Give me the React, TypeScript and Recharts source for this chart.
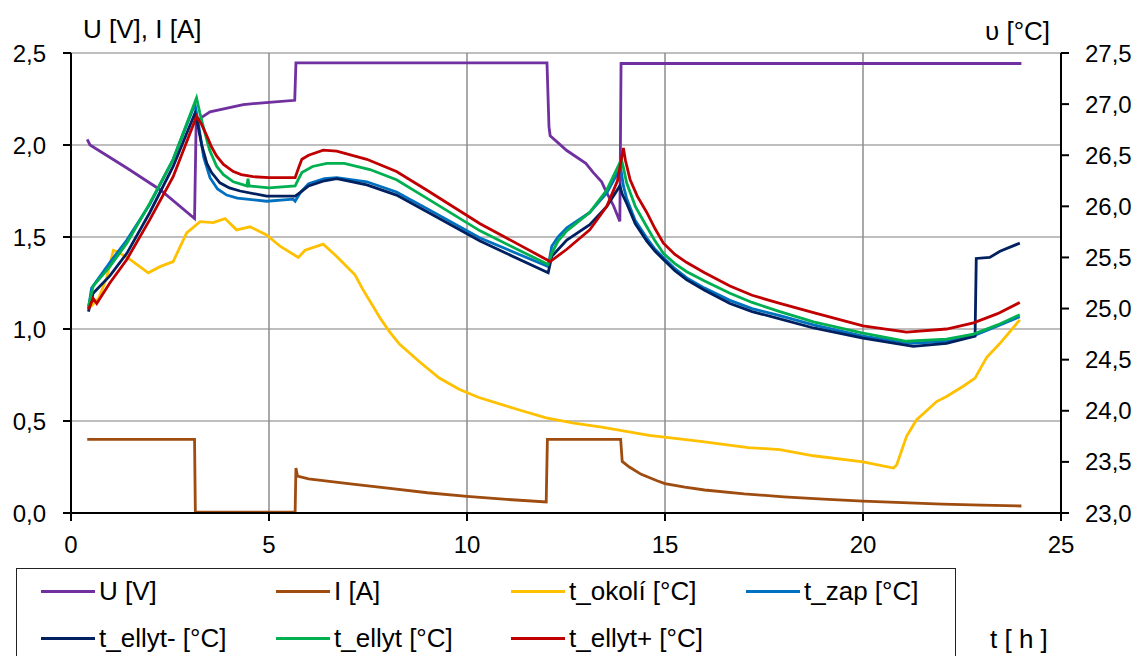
import React from "react"
import { LineChart, Line, XAxis, YAxis, CartesianGrid } from "recharts"

// [t in hours, value]
const uData: [number, number][] = [
  [0.41, 2.03], [0.48, 2.0], [1.41, 1.875], [2.25, 1.757], [3.12, 1.6], [3.16, 2.12],
  [3.3, 2.15], [3.51, 2.18], [4.35, 2.22], [5.0, 2.232], [5.65, 2.243], [5.68, 2.446],
  [12.02, 2.446], [12.07, 2.1], [12.1, 2.05], [12.52, 1.97], [13.0, 1.9], [13.19, 1.85],
  [13.4, 1.8], [13.53, 1.74], [13.7, 1.67], [13.86, 1.585], [13.89, 2.443], [24.0, 2.443],
]

const iData: [number, number][] = [
  [0.41, 0.4], [3.12, 0.4], [3.14, 0.005], [5.66, 0.005], [5.68, 0.245], [5.72, 0.2],
  [6.0, 0.185], [7.0, 0.16], [8.0, 0.135], [9.0, 0.11], [10.0, 0.09], [11.0, 0.074],
  [12.0, 0.06], [12.03, 0.4], [13.88, 0.4], [13.92, 0.28], [14.1, 0.25], [14.4, 0.21],
  [14.8, 0.175], [15.0, 0.16], [15.5, 0.14], [16.0, 0.125], [17.0, 0.104], [18.0, 0.088],
  [19.0, 0.075], [20.0, 0.064], [21.0, 0.056], [22.0, 0.048], [23.0, 0.043], [24.0, 0.038],
]

const okoliData: [number, number][] = [
  [0.45, 25.0], [0.7, 25.1], [0.9, 25.3], [1.07, 25.57], [1.2, 25.55], [1.49, 25.48],
  [1.95, 25.35], [2.25, 25.41], [2.58, 25.46], [2.92, 25.74], [3.26, 25.85], [3.59, 25.84],
  [3.89, 25.88], [4.18, 25.77], [4.52, 25.8], [4.94, 25.72], [5.28, 25.61], [5.74, 25.5],
  [5.91, 25.57], [6.37, 25.63], [6.71, 25.51], [7.17, 25.33], [7.38, 25.18], [7.6, 25.04],
  [7.8, 24.91], [8.05, 24.77], [8.3, 24.65], [8.8, 24.48], [9.3, 24.32], [9.8, 24.21],
  [10.3, 24.13], [10.8, 24.07], [11.3, 24.01], [12.0, 23.93], [12.7, 23.88], [13.4, 23.84],
  [14.6, 23.76], [15.9, 23.7], [17.1, 23.64], [17.9, 23.62], [18.75, 23.56], [20.0, 23.5],
  [20.77, 23.44], [20.85, 23.47], [21.1, 23.75], [21.35, 23.91], [21.86, 24.09], [22.11, 24.14],
  [22.53, 24.24], [22.83, 24.32], [23.12, 24.52], [23.46, 24.66], [23.96, 24.89],
]

const zapData: [number, number][] = [
  [0.44, 25.0], [0.52, 25.2], [0.98, 25.45], [1.41, 25.67], [1.99, 26.02], [2.58, 26.46],
  [3.13, 27.0], [3.2, 26.85], [3.35, 26.48], [3.51, 26.28], [3.7, 26.17], [3.93, 26.11],
  [4.2, 26.08], [4.44, 26.07], [4.94, 26.05], [5.61, 26.07], [5.66, 26.05], [5.8, 26.14],
  [6.0, 26.22], [6.4, 26.27], [6.71, 26.28], [7.47, 26.24], [8.22, 26.14], [8.98, 25.98],
  [10.33, 25.69], [12.05, 25.41], [12.14, 25.61], [12.3, 25.7], [12.52, 25.79], [13.1, 25.94],
  [13.53, 26.13], [13.88, 26.38], [13.95, 26.2], [14.03, 26.08], [14.25, 25.86], [14.54, 25.69],
  [14.75, 25.58], [14.96, 25.5], [15.25, 25.39], [15.55, 25.3], [16.0, 25.2], [16.64, 25.08],
  [17.2, 25.0], [17.9, 24.93], [18.75, 24.84], [20.0, 24.73], [21.2, 24.66], [22.11, 24.68],
  [22.83, 24.74], [23.4, 24.83], [23.96, 24.92],
]

const ellytMinusData: [number, number][] = [
  [0.44, 24.97], [0.56, 25.15], [0.98, 25.32], [1.41, 25.54], [1.99, 25.94], [2.58, 26.39],
  [3.13, 26.91], [3.2, 26.8], [3.3, 26.6], [3.43, 26.42], [3.55, 26.33], [3.76, 26.23],
  [4.0, 26.18], [4.27, 26.15], [4.94, 26.1], [5.66, 26.1], [5.8, 26.14], [6.0, 26.2],
  [6.4, 26.25], [6.71, 26.27], [7.47, 26.21], [8.22, 26.11], [8.98, 25.95], [10.33, 25.66],
  [12.05, 25.35], [12.14, 25.51], [12.52, 25.67], [13.1, 25.82], [13.53, 26.0], [13.86, 26.2],
  [13.92, 26.12], [14.03, 26.03], [14.25, 25.83], [14.54, 25.66], [14.75, 25.56], [14.96, 25.48],
  [15.25, 25.37], [15.55, 25.28], [16.0, 25.18], [16.64, 25.05], [17.2, 24.97], [17.9, 24.9],
  [18.75, 24.81], [20.0, 24.71], [21.27, 24.63], [22.11, 24.66], [22.83, 24.73], [22.86, 25.49],
  [23.2, 25.5], [23.46, 25.56], [23.96, 25.64],
]

const ellytData: [number, number][] = [
  [0.44, 25.02], [0.56, 25.22], [0.98, 25.41], [1.41, 25.64], [1.99, 26.03], [2.58, 26.46],
  [3.17, 27.06], [3.25, 26.92], [3.34, 26.78], [3.5, 26.55], [3.68, 26.39], [3.85, 26.31],
  [4.1, 26.24], [4.44, 26.2], [4.47, 26.27], [4.5, 26.2], [5.0, 26.18], [5.66, 26.2],
  [5.75, 26.27], [5.83, 26.33], [6.1, 26.39], [6.46, 26.42], [6.9, 26.42], [7.55, 26.36],
  [8.22, 26.26], [8.98, 26.08], [10.33, 25.76], [12.05, 25.43], [12.14, 25.54], [12.3, 25.66],
  [12.52, 25.76], [13.1, 25.94], [13.53, 26.16], [13.9, 26.46], [13.95, 26.38], [14.03, 26.23],
  [14.25, 26.0], [14.54, 25.8], [14.75, 25.66], [14.96, 25.54], [15.25, 25.44], [15.55, 25.36],
  [16.0, 25.27], [16.64, 25.15], [17.2, 25.06], [17.9, 24.97], [18.75, 24.87], [20.0, 24.76],
  [21.1, 24.68], [22.11, 24.7], [22.79, 24.75], [23.4, 24.84], [23.96, 24.94],
]

const ellytPlusData: [number, number][] = [
  [0.44, 24.99], [0.56, 25.1], [0.65, 25.05], [0.98, 25.25], [1.41, 25.48], [1.99, 25.87],
  [2.58, 26.29], [3.17, 26.88], [3.3, 26.8], [3.43, 26.69], [3.55, 26.58], [3.68, 26.49],
  [3.85, 26.41], [4.1, 26.34], [4.3, 26.31], [4.6, 26.29], [5.0, 26.28], [5.66, 26.28],
  [5.75, 26.38], [5.83, 26.46], [6.0, 26.5], [6.37, 26.55], [6.71, 26.54], [7.47, 26.46],
  [8.22, 26.34], [8.98, 26.16], [10.33, 25.83], [12.1, 25.46], [12.52, 25.58], [13.1, 25.77],
  [13.53, 26.0], [13.8, 26.25], [13.95, 26.57], [14.0, 26.45], [14.12, 26.26], [14.3, 26.1],
  [14.54, 25.94], [14.75, 25.78], [14.96, 25.64], [15.25, 25.53], [15.55, 25.45], [16.0, 25.35],
  [16.64, 25.22], [17.2, 25.13], [17.9, 25.05], [18.75, 24.96], [20.0, 24.83], [21.1, 24.77],
  [22.11, 24.8], [22.79, 24.86], [23.4, 24.95], [23.96, 25.06],
]

const xTicks = [0, 5, 10, 15, 20, 25]
const leftTicks = [0, 0.5, 1, 1.5, 2, 2.5]
const rightTicks = [23, 23.5, 24, 24.5, 25, 25.5, 26, 26.5, 27, 27.5]

const series = [
  { name: "U [V]", data: uData, axis: "left", color: "#7030A0" },
  { name: "I [A]", data: iData, axis: "left", color: "#9E4C10" },
  { name: "t_okolí [°C]", data: okoliData, axis: "right", color: "#FFC000" },
  { name: "t_zap [°C]", data: zapData, axis: "right", color: "#0070C0" },
  { name: "t_ellyt- [°C]", data: ellytMinusData, axis: "right", color: "#002060" },
  { name: "t_ellyt [°C]", data: ellytData, axis: "right", color: "#00B050" },
  { name: "t_ellyt+ [°C]", data: ellytPlusData, axis: "right", color: "#C00000" },
]

const font = "'Liberation Sans', Arial, sans-serif"
const comma = (v: number) => v.toFixed(1).replace(".", ",")
const tickStyle = { fontSize: 24, fill: "#000", fontFamily: font }

export default function App() {
  return (
    <div style={{ position: "absolute", left: 0, top: 0, width: 1139, height: 656, background: "#fff", fontFamily: font, overflow: "hidden" }}>
      <LineChart width={1139} height={656} margin={{ top: 53, right: 0, left: 0, bottom: 0 }}>
        <CartesianGrid yAxisId="left" vertical={false} stroke="#a8a8a8" strokeWidth={1.5} />
        <CartesianGrid yAxisId="left" horizontal={false} stroke="#8c8c8c" strokeWidth={1.5} />
        <XAxis
          type="number"
          dataKey="t"
          domain={[0, 25]}
          ticks={xTicks}
          height={143}
          tick={tickStyle}
          tickSize={8}
          tickMargin={15}
          axisLine={{ stroke: "#000", strokeWidth: 2 }}
          tickLine={{ stroke: "#000", strokeWidth: 2 }}
        />
        <YAxis
          yAxisId="left"
          domain={[0, 2.5]}
          ticks={leftTicks}
          width={71}
          tick={tickStyle}
          tickFormatter={comma}
          tickSize={8}
          tickMargin={17}
          axisLine={{ stroke: "#000", strokeWidth: 2 }}
          tickLine={{ stroke: "#000", strokeWidth: 2 }}
        />
        <YAxis
          yAxisId="right"
          orientation="right"
          domain={[23, 27.5]}
          ticks={rightTicks}
          width={78}
          tick={tickStyle}
          tickFormatter={comma}
          tickSize={8}
          tickMargin={16}
          axisLine={{ stroke: "#000", strokeWidth: 2 }}
          tickLine={{ stroke: "#000", strokeWidth: 2 }}
        />
        {series.map((s) => (
          <Line
            key={s.name}
            yAxisId={s.axis}
            data={s.data.map(([t, v]) => ({ t, v }))}
            dataKey="v"
            type="linear"
            stroke={s.color}
            strokeWidth={2.8}
            dot={false}
            isAnimationActive={false}
          />
        ))}
      </LineChart>
      <div style={{ position: "absolute", left: 83, top: 14, fontSize: 26 }}>U [V], I [A]</div>
      <div style={{ position: "absolute", left: 985, top: 16, fontSize: 26 }}>υ [°C]</div>
      <div style={{ position: "absolute", left: 990, top: 624, fontSize: 26 }}>t [ h ]</div>
      <div style={{ position: "absolute", left: 16, top: 568, width: 940, height: 120, border: "1px solid #222", boxSizing: "border-box" }}>
        {series.map((s, i) => (
          <div
            key={s.name}
            style={{
              position: "absolute",
              left: 24 + (i % 4) * 235,
              top: 7 + Math.floor(i / 4) * 47,
              display: "flex",
              alignItems: "center",
              fontSize: 26,
              whiteSpace: "nowrap",
            }}
          >
            <span style={{ display: "inline-block", width: 54, height: 3, background: s.color, marginRight: 4 }} />
            {s.name}
          </div>
        ))}
      </div>
    </div>
  )
}
